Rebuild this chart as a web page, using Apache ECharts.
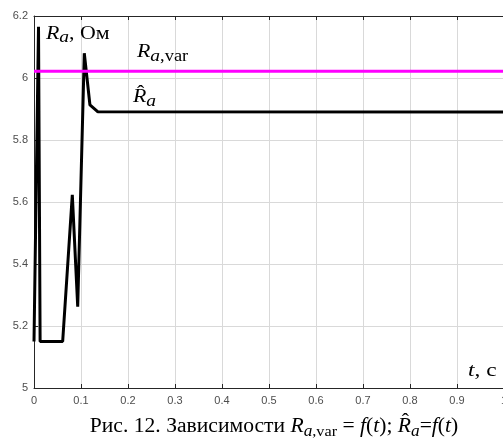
<!DOCTYPE html>
<html>
<head>
<meta charset="utf-8">
<script src="https://cdn.jsdelivr.net/npm/echarts@6/dist/echarts.min.js"></script>
<style>html,body{margin:0;padding:0;background:#fff}#chart{width:503px;height:441px}</style>
</head>
<body>
<div id="chart"></div>
<script>
// оценка сопротивления R^a(t)
var hatT = [0, 0.0096, 0.013, 0.061, 0.064, 0.0815, 0.093, 0.107, 0.119, 0.136, 1];
var hatR = [5.15, 6.165, 5.15, 5.15, 5.15, 5.623, 5.262, 6.08, 5.913, 5.891, 5.89];
// действительное значение Ra,var
var varT = [0, 1];
var varR = [6.022, 6.022];

var serif = '"Liberation Serif", "Times New Roman", serif';
var sans = '"Liberation Sans", Arial, sans-serif';
var ctx2d = document.createElement('canvas').getContext('2d');

function pairs(xs, ys) {
    return xs.map(function (x, i) { return [x, ys[i]]; });
}

// кусочки текста: [текст, размер, курсив, сдвиг по y, шляпка]
function textRun(x, baseline, parts, center, sx) {
    sx = sx || 1;
    var widths = [], total = 0, els = [];
    parts.forEach(function (p) {
        ctx2d.font = (p[2] ? 'italic ' : '') + p[1] + 'px ' + serif;
        var w = ctx2d.measureText(p[0]).width * sx;
        widths.push(w);
        total += w;
    });
    var cx = center ? x - total / 2 : x;
    parts.forEach(function (p, i) {
        var y = baseline + (p[3] || 0) - 0.3 * p[1];
        els.push({
            type: 'text',
            x: cx,
            y: y,
            scaleX: sx,
            z: 10,
            style: {
                text: p[0],
                fontFamily: serif,
                fontSize: p[1],
                fontStyle: p[2] ? 'italic' : 'normal',
                fill: '#000',
                verticalAlign: 'middle'
            }
        });
        if (p[4]) {
            // шляпка над буквой
            els.push({
                type: 'text',
                x: cx + widths[i] / 2 + 1,
                y: y - p[1] * 0.22,
                scaleX: sx,
                z: 10,
                style: {
                    text: '\u02C6',
                    fontFamily: serif,
                    fontSize: p[1],
                    fill: '#000',
                    align: 'center',
                    verticalAlign: 'middle'
                }
            });
        }
        cx += widths[i];
    });
    return els;
}

var labels = [].concat(
    textRun(46, 40, [['R', 19, true], ['a', 17, true, 3], [', Ом', 19, false]], false, 1.15),
    textRun(137, 58, [['R', 19, true], ['a', 17, true, 4], [',var', 16, false, 4]], false, 1.15),
    textRun(133, 103, [['R', 19, true, 0, true], ['a', 17, true, 4]], false, 1.15),
    textRun(468, 377, [['t', 18, true], [', с', 18, false]], false, 1.3),
    textRun(274, 433, [
        ['Рис. 12. Зависимости ', 20, false],
        ['R', 20, true], ['a', 16, true, 4], [',var', 15, false, 4],
        [' = ', 20, false], ['f', 20, true], ['(', 20, false], ['t', 20, true], ['); ', 20, false],
        ['R', 20, true, 0, true], ['a', 16, true, 4],
        ['=', 20, false], ['f', 20, true], ['(', 20, false], ['t', 20, true], [')', 20, false]
    ], true, 1.08)
);

var myChart = echarts.init(document.getElementById('chart'));
var option = {
    animation: false,
    grid: {left: 34, top: 16, right: -1, bottom: 53, outerBoundsMode: 'none', containLabel: false},
    xAxis: [
        {
            type: 'value',
            min: 0,
            max: 1,
            interval: 0.1,
            axisLabel: {color: '#4d4d4d', fontSize: 11, fontFamily: sans, margin: 7},
            axisLine: {lineStyle: {color: '#262626', width: 1}},
            axisTick: {inside: true, length: 4, lineStyle: {color: '#262626'}},
            splitLine: {show: true, lineStyle: {color: '#d9d9d9'}}
        },
        {
            type: 'value',
            position: 'top',
            min: 0,
            max: 1,
            interval: 0.1,
            axisLabel: {show: false},
            axisLine: {show: true, lineStyle: {color: '#262626', width: 1}},
            axisTick: {inside: true, length: 4, lineStyle: {color: '#262626'}},
            splitLine: {show: false}
        }
    ],
    yAxis: {
        type: 'value',
        min: 5,
        max: 6.2,
        interval: 0.2,
        axisLabel: {color: '#4d4d4d', fontSize: 11, fontFamily: sans, margin: 6},
        axisLine: {show: true, lineStyle: {color: '#262626', width: 1}},
        axisTick: {show: true, inside: true, length: 4, lineStyle: {color: '#262626'}},
        splitLine: {show: true, lineStyle: {color: '#d9d9d9'}}
    },
    series: [
        {
            type: 'line',
            data: pairs(hatT, hatR),
            symbol: 'none',
            z: 3,
            lineStyle: {color: '#000', width: 3}
        },
        {
            type: 'line',
            data: pairs(varT, varR),
            symbol: 'none',
            z: 4,
            lineStyle: {color: '#ff00ff', width: 3}
        }
    ],
    graphic: labels
};
myChart.setOption(option);
</script>
</body>
</html>
